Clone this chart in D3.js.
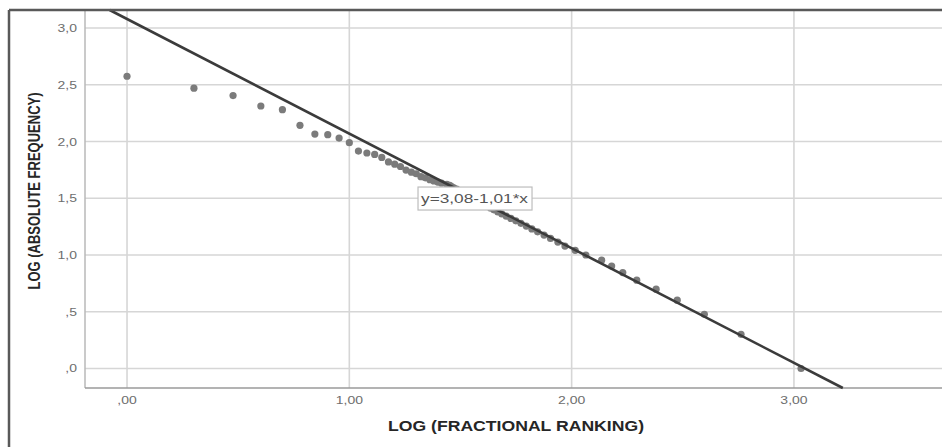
<!DOCTYPE html>
<html>
<head>
<meta charset="utf-8">
<script src="https://cdn.jsdelivr.net/npm/d3@7"></script>
<style>
  body { margin: 0; background: #fff; }
  text { font-family: "Liberation Sans", Arial, sans-serif; }
</style>
</head>
<body>
<div id="chart"></div>
<script>
// log10 of fractional rank (ties get the average rank)
var logRank = [
    0.000, 0.301, 0.477, 0.602, 0.699, 0.778, 0.845, 0.903, 0.954, 1.000,
    1.041, 1.079, 1.114, 1.146, 1.176, 1.204, 1.230, 1.255, 1.279, 1.301,
    1.322, 1.342, 1.362, 1.380, 1.398, 1.415, 1.439, 1.452,
    1.460, 1.470, 1.483, 1.494, 1.503, 1.513, 1.524, 1.536, 1.549, 1.561,
    1.573, 1.590, 1.604, 1.619, 1.635, 1.650, 1.668, 1.686, 1.706, 1.727,
    1.749, 1.772, 1.796, 1.821, 1.847, 1.876, 1.905, 1.938, 1.970, 2.016,
    2.064, 2.135, 2.180, 2.230, 2.293, 2.380, 2.475, 2.597, 2.762, 3.032
];
// log10 of absolute frequency
var logFreq = [
    2.575, 2.470, 2.405, 2.313, 2.281, 2.143, 2.066, 2.060, 2.030, 1.990,
    1.916, 1.899, 1.886, 1.860, 1.820, 1.800, 1.780, 1.748, 1.730, 1.716,
    1.690, 1.680, 1.663, 1.653, 1.643, 1.633, 1.623, 1.613,
    1.602, 1.591, 1.580, 1.568, 1.556, 1.544, 1.531, 1.519, 1.505, 1.491,
    1.477, 1.462, 1.447, 1.431, 1.415, 1.398, 1.380, 1.362, 1.342, 1.322,
    1.301, 1.279, 1.255, 1.230, 1.204, 1.176, 1.146, 1.114, 1.079, 1.041,
    1.000, 0.954, 0.903, 0.845, 0.778, 0.699, 0.602, 0.477, 0.301, 0.000
];
var xTicks = [0, 1, 2, 3];
var xTickLabels = [',00', '1,00', '2,00', '3,00'];
var yTicks = [0, 0.5, 1, 1.5, 2, 2.5, 3];
var yTickLabels = [',0', ',5', '1,0', '1,5', '2,0', '2,5', '3,0'];
var fitIntercept = 3.08;
var fitSlope = -1.01;
var fitLabel = 'y=3,08-1,01*x';

var chart_width = 942;
var chart_height = 447;
var stretch = 1.27; // the picture is a bit wide

var svg = d3.select('#chart')
    .append('svg')
    .attr('width', chart_width)
    .attr('height', chart_height);

// Escalas
var x_scale = d3.scaleLinear()
    .domain([-0.189, 3.666])
    .range([85, 942]);

var y_scale = d3.scaleLinear()
    .domain([-0.172, 3.159])
    .range([388, 10]);

// grade
svg.selectAll('line.gx')
    .data(xTicks)
    .enter()
    .append('line')
    .attr('class', 'gx')
    .attr('x1', function (d) { return x_scale(d); })
    .attr('x2', function (d) { return x_scale(d); })
    .attr('y1', y_scale.range()[1])
    .attr('y2', y_scale.range()[0])
    .attr('stroke', '#d6d6d6')
    .attr('stroke-width', 1.6);

svg.selectAll('line.gy')
    .data(yTicks)
    .enter()
    .append('line')
    .attr('class', 'gy')
    .attr('x1', x_scale.range()[0])
    .attr('x2', x_scale.range()[1])
    .attr('y1', function (d) { return y_scale(d); })
    .attr('y2', function (d) { return y_scale(d); })
    .attr('stroke', '#d6d6d6')
    .attr('stroke-width', 1.6);

// eixos
svg.append('line')
    .attr('x1', x_scale.range()[0]).attr('x2', x_scale.range()[0])
    .attr('y1', y_scale.range()[1]).attr('y2', y_scale.range()[0])
    .attr('stroke', '#b8b8b8').attr('stroke-width', 1.5);
svg.append('line')
    .attr('x1', x_scale.range()[0]).attr('x2', x_scale.range()[1])
    .attr('y1', y_scale.range()[0]).attr('y2', y_scale.range()[0])
    .attr('stroke', '#9a9a9a').attr('stroke-width', 1.6);

// rotulos dos ticks
svg.selectAll('text.tx')
    .data(xTicks)
    .enter()
    .append('text')
    .attr('class', 'tx')
    .attr('transform', function (d) {
        return 'translate(' + x_scale(d) + ',404) scale(' + stretch + ',1)';
    })
    .attr('text-anchor', 'middle')
    .attr('font-size', 11)
    .attr('fill', '#6e6e6e')
    .text(function (d, i) { return xTickLabels[i]; });

svg.selectAll('text.ty')
    .data(yTicks)
    .enter()
    .append('text')
    .attr('class', 'ty')
    .attr('transform', function (d) {
        return 'translate(77,' + (y_scale(d) + 4) + ') scale(' + stretch + ',1)';
    })
    .attr('text-anchor', 'end')
    .attr('font-size', 11)
    .attr('fill', '#6e6e6e')
    .text(function (d, i) { return yTickLabels[i]; });

// titulos
svg.append('text')
    .attr('x', 516)
    .attr('y', 431)
    .attr('text-anchor', 'middle')
    .attr('font-size', 14)
    .attr('font-weight', 'bold')
    .attr('fill', '#262626')
    .attr('textLength', 256)
    .attr('lengthAdjust', 'spacingAndGlyphs')
    .text('LOG (FRACTIONAL RANKING)');

svg.append('text')
    .attr('transform', 'translate(40,191) rotate(-90) scale(1,' + stretch + ')')
    .attr('text-anchor', 'middle')
    .attr('font-size', 13)
    .attr('font-weight', 'bold')
    .attr('fill', '#262626')
    .attr('textLength', 197)
    .attr('lengthAdjust', 'spacingAndGlyphs')
    .text('LOG (ABSOLUTE FREQUENCY)');

// pontos
var points = logRank.map(function (r, i) {
    return { x: r, y: logFreq[i] };
});

svg.selectAll('circle')
    .data(points)
    .enter()
    .append('circle')
    .attr('cx', function (d) { return x_scale(d.x); })
    .attr('cy', function (d) { return y_scale(d.y); })
    .attr('r', 3.6)
    .attr('fill', '#7b7b7b');

// reta ajustada, cortada na area do grafico
var yTop = y_scale.domain()[1];
var yBottom = y_scale.domain()[0];
var fitEnds = [
    { x: (yTop - fitIntercept) / fitSlope, y: yTop },
    { x: (yBottom - fitIntercept) / fitSlope, y: yBottom }
];
svg.append('path')
    .datum(fitEnds)
    .attr('d', d3.line()
        .x(function (d) { return x_scale(d.x); })
        .y(function (d) { return y_scale(d.y); }))
    .attr('stroke', '#3b3b3b')
    .attr('stroke-width', 2.6)
    .attr('fill', 'none');

// caixa da equacao
var labelX = x_scale(1.309);
var labelY = y_scale(1.599);
svg.append('rect')
    .attr('x', labelX)
    .attr('y', labelY)
    .attr('width', 114)
    .attr('height', 23)
    .attr('fill', '#fff')
    .attr('stroke', '#bdbdbd')
    .attr('stroke-width', 1.2);
svg.append('text')
    .attr('x', labelX + 3)
    .attr('y', labelY + 16)
    .attr('font-size', 13)
    .attr('fill', '#555')
    .attr('textLength', 107)
    .attr('lengthAdjust', 'spacingAndGlyphs')
    .text(fitLabel);

// moldura
svg.append('line')
    .attr('x1', 9).attr('x2', chart_width)
    .attr('y1', 10).attr('y2', 10)
    .attr('stroke', '#595959').attr('stroke-width', 2.5);
svg.append('line')
    .attr('x1', 9).attr('x2', 9)
    .attr('y1', 10).attr('y2', chart_height)
    .attr('stroke', '#595959').attr('stroke-width', 2.5);
</script>
</body>
</html>
